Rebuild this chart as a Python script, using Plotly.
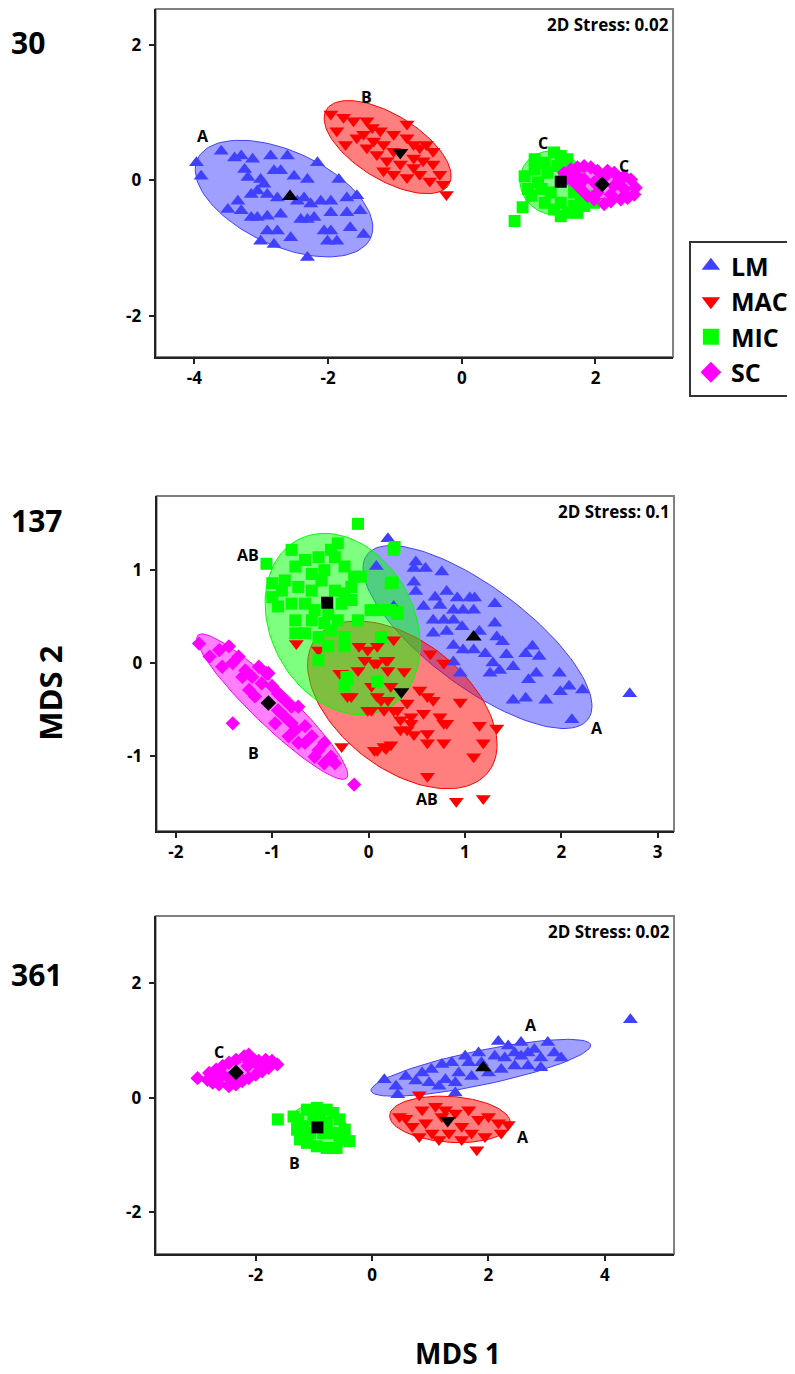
import numpy as np
import plotly.graph_objects as go

groups = ["LM", "MAC", "MIC", "SC"]
colors = {"LM": "#4040FF", "MAC": "#FF0000", "MIC": "#00FF00", "SC": "#FF00FF"}
fills = {"LM": "rgba(64,64,255,0.5)", "MAC": "rgba(255,0,0,0.5)",
         "MIC": "rgba(0,255,0,0.5)", "SC": "rgba(255,0,255,0.5)"}
symbols = {"LM": "triangle-up", "MAC": "triangle-down", "MIC": "square", "SC": "diamond"}
msize = {"LM": 13, "MAC": 13, "MIC": 12, "SC": 11}

# ---------------- Panel "30" ----------------
p30_LM_x = [-3.97, -3.90, -3.60, -3.40, -3.30, -3.13, -2.86, -2.61, -2.16, -3.25, -3.20, -3.01, -2.81, -2.71,
            -2.51, -2.31, -1.84, -3.35, -3.50, -3.30, -3.15, -3.06, -2.96, -2.91, -2.76, -3.06, -2.91, -2.71,
            -2.46, -2.36, -2.26, -2.11, -1.96, -1.72, -1.57, -2.41, -2.31, -2.21, -1.96, -1.72, -1.52, -2.91,
            -2.76, -2.56, -2.06, -1.96, -1.87, -1.67, -1.47, -2.81, -2.31, -3.01, -3.15, -2.01]
p30_LM_y = [0.26, 0.06, 0.43, 0.33, 0.36, 0.31, 0.36, 0.36, 0.26, 0.16, 0.04, 0.01, 0.14, 0.14,
            0.06, 0.01, 0.01, -0.31, -0.43, -0.45, -0.21, -0.16, -0.06, -0.21, -0.26, -0.55, -0.53, -0.50,
            -0.31, -0.26, -0.35, -0.31, -0.31, -0.26, -0.23, -0.58, -0.58, -0.55, -0.48, -0.48, -0.45, -0.75,
            -0.75, -0.85, -0.75, -0.75, -0.90, -0.70, -0.80, -0.95, -1.14, -0.90, -0.55, -0.90]
p30_MAC_x = [-1.96, -1.77, -1.87, -1.74, -1.62, -1.42, -1.34, -1.22, -1.02, -0.82, -1.47, -1.32, -1.17, -1.02,
             -0.72, -0.63, -0.53, -0.43, -1.27, -1.12, -0.92, -0.72, -0.58, -0.43, -0.33, -1.02, -0.82, -0.63,
             -0.48, -0.28, -0.23, -1.42, -1.57, -0.82, -1.17, -0.72]
p30_MAC_y = [0.98, 0.93, 0.73, 0.53, 0.88, 0.88, 0.78, 0.73, 0.68, 0.83, 0.68, 0.58, 0.53, 0.43,
             0.53, 0.48, 0.53, 0.43, 0.38, 0.29, 0.24, 0.33, 0.29, 0.24, 0.09, 0.09, 0.04, 0.09,
             -0.01, -0.06, -0.21, 0.48, 0.63, 0.63, 0.14, 0.19]
p30_MIC_x = [0.94, 0.99, 1.09, 1.14, 1.24, 1.28, 1.38, 1.48, 1.58, 1.33, 1.24, 1.48, 1.58, 1.68, 1.78, 1.88,
             1.73, 1.98, 1.04, 1.19, 1.43, 1.53, 1.63, 1.09, 1.68, 1.83, 1.48, 1.38, 0.91, 0.79]
p30_MIC_y = [0.06, -0.13, 0.16, -0.03, 0.26, 0.11, 0.41, 0.36, 0.31, -0.18, -0.33, -0.33, -0.48, -0.38, -0.28,
             -0.23, -0.48, -0.33, -0.23, -0.13, 0.21, 0.11, 0.16, 0.31, -0.18, -0.38, -0.53, -0.43, -0.40, -0.60]
p30_SC_x = [1.53, 1.63, 1.73, 1.83, 1.93, 2.03, 2.18, 2.28, 2.43, 2.53, 2.60, 2.58, 2.48, 2.38, 2.23, 2.13,
            1.98, 1.88, 1.78, 1.68, 1.58, 1.98, 1.83, 2.28, 2.43, 2.23, 2.03, 2.13, 2.35, 1.73]
p30_SC_y = [0.11, 0.16, 0.19, 0.21, 0.19, 0.14, 0.14, 0.11, 0.06, 0.01, -0.11, -0.21, -0.26, -0.28, -0.31, -0.35,
            -0.28, -0.23, -0.13, -0.03, 0.04, -0.03, 0.01, -0.08, -0.13, -0.21, -0.18, 0.04, -0.01, 0.06]
p30_cent_x = [-2.57, -0.92, 1.48, 2.10]
p30_cent_y = [-0.24, 0.41, -0.02, -0.06]
# ellipse: centre x, centre y, semi-major, semi-minor, angle (deg)
p30_ell_cx = [-2.66, -1.11, 1.36, 2.08]
p30_ell_cy = [-0.27, 0.49, -0.04, -0.07]
p30_ell_a = [1.42, 1.07, 0.50, 0.52]
p30_ell_b = [0.70, 0.48, 0.46, 0.20]
p30_ell_ang = [-24, -31, -30, -8]
p30_lab_text = ["A", "B", "C", "C"]
p30_lab_x = [-3.87, -1.43, 1.22, 2.43]
p30_lab_y = [0.65, 1.23, 0.55, 0.21]

# ---------------- Panel "137" ----------------
p137_LM_x = [0.20, 0.08, 0.49, 0.59, 0.76, 0.47, 0.49, 0.69, 0.81, 0.92, 1.05, 1.10, 1.31, 0.57, 0.74, 0.88,
             0.98, 1.09, 0.67, 0.78, 0.88, 1.31, 0.67, 0.81, 0.97, 1.15, 1.33, 1.39, 0.98, 1.09, 1.21, 1.29,
             1.43, 1.50, 1.63, 1.70, 0.88, 0.95, 1.26, 1.36, 1.66, 1.74, 1.98, 1.50, 1.63, 1.84, 1.99, 2.08,
             2.22, 2.11, 2.71, 0.47, 0.26, 1.77, 0.88]
p137_LM_y = [1.34, 1.04, 1.09, 1.02, 0.98, 0.87, 0.77, 0.71, 0.77, 0.70, 0.70, 0.70, 0.64, 0.61, 0.62, 0.57,
             0.57, 0.57, 0.46, 0.46, 0.46, 0.43, 0.32, 0.34, 0.39, 0.34, 0.28, 0.23, 0.14, 0.14, 0.10, 0.00,
             0.09, -0.04, 0.10, 0.18, 0.01, -0.11, -0.11, -0.08, -0.18, -0.11, -0.11, -0.40, -0.38, -0.40, -0.31, -0.25,
             -0.29, -0.61, -0.33, 1.02, 0.61, 0.07, 0.19]
p137_MAC_x = [-0.75, -0.52, -0.28, -0.11, -0.01, 0.09, 0.26, 0.09, 0.20, -0.04, -0.18, -0.01, 0.13, 0.23, 0.30,
              0.44, 0.40, 0.09, 0.16, -0.28, -0.10, 0.06, 0.18, 0.20, 0.37, -0.30, -0.22, 0.03, 0.09, 0.20,
              0.03, 0.16, 0.26, 0.40, 0.53, 0.61, 0.67, 0.95, 0.33, 0.44, 0.57, 0.74, 0.81, 0.33, 0.47, 0.61,
              0.61, 0.78, 0.78, 1.15, 1.33, 1.19, 1.09, 0.06, 0.23, 0.18, 0.61, 0.91, 1.19, 0.64, 0.78]
p137_MAC_y = [0.21, 0.14, -0.11, -0.08, 0.14, 0.18, 0.25, 0.00, 0.03, 0.03, -0.36, -0.51, -0.40, -0.25, -0.51,
              -0.58, -0.72, -0.94, -0.90, -0.90, 0.18, 0.00, 0.03, -0.08, -0.09, -0.11, -0.36, -0.25, -0.36, -0.40,
              -0.51, -0.51, -0.51, -0.43, -0.29, -0.36, -0.40, -0.42, -0.61, -0.65, -0.54, -0.58, -0.65, -0.72, -0.77, -0.76,
              -0.86, -0.86, -0.65, -0.67, -0.70, -0.86, -1.01, -0.94, -0.88, -0.92, -1.22, -1.49, -1.46, 0.10, 0.00]
p137_MIC_x = [-1.06, -0.11, -0.80, -0.66, -0.52, -0.39, -0.32, -0.35, -0.76, -0.59, -0.46, -0.25, -0.15, -0.08,
              -1.00, -0.87, -0.73, -0.59, -0.49, -0.35, -0.25, -0.18, -1.00, -0.94, -0.80, -0.66, -0.56, -0.42,
              -0.28, -0.18, -0.76, -0.59, -0.46, -0.32, -0.66, -0.52, -0.39, -0.25, -0.11, 0.02, 0.13, 0.23,
              0.30, 0.26, 0.23, 0.13, -0.52, -0.42, -0.25, -0.23, -0.25, 0.09, -0.76, -0.90, 0.27, 0.25, 0.30, -0.22]
p137_MIC_y = [1.07, 1.50, 1.22, 1.11, 1.14, 1.22, 1.29, 1.14, 1.04, 0.96, 1.00, 1.04, 0.93, 0.93,
              0.86, 0.89, 0.82, 0.78, 0.89, 0.78, 0.75, 0.82, 0.71, 0.61, 0.64, 0.64, 0.57, 0.53,
              0.64, 0.68, 0.46, 0.46, 0.43, 0.46, 0.32, 0.28, 0.35, 0.28, 0.46, 0.57, 0.57, 0.57,
              0.53, 1.22, 0.86, 0.28, 0.03, 0.18, 0.18, -0.15, -0.25, -0.20, 0.32, 0.78, 1.25, 0.87, 0.55, -0.18]
p137_SC_x = [-1.76, -1.65, -1.55, -1.45, -1.52, -1.41, -1.35, -1.28, -1.21, -1.14, -1.11, -1.24, -1.18, -1.04,
             -1.00, -0.94, -0.87, -0.80, -0.73, -0.94, -0.87, -0.80, -0.97, -0.76, -0.66, -0.59, -0.66, -0.52,
             -0.46, -0.39, -0.56, -0.35, -0.73, -0.83, -1.31, -1.06, -0.46, -1.41, -0.15]
p137_SC_y = [0.21, 0.07, 0.14, 0.18, -0.04, 0.00, 0.07, -0.08, -0.15, -0.04, -0.22, -0.29, -0.36, -0.11,
             -0.25, -0.33, -0.40, -0.47, -0.47, -0.51, -0.58, -0.65, -0.65, -0.72, -0.68, -0.79, -0.86, -0.94,
             -0.86, -1.01, -1.01, -1.08, -0.86, -0.79, -0.15, -0.11, -1.08, -0.65, -1.31]
p137_cent_x = [1.09, 0.34, -0.43, -1.04]
p137_cent_y = [0.28, -0.31, 0.65, -0.43]
p137_ell_cx = [1.13, 0.35, -0.27, -1.00]
p137_ell_cy = [0.28, -0.45, 0.42, -0.47]
p137_ell_a = [1.45, 1.15, 1.02, 1.09]
p137_ell_b = [0.53, 0.68, 0.75, 0.20]
p137_ell_ang = [-38, -40, -65, -45]
p137_lab_text = ["A", "AB", "AB", "B"]
p137_lab_x = [2.37, 0.61, -1.25, -1.19]
p137_lab_y = [-0.70, -1.47, 1.16, -0.97]

# ---------------- Panel "361" ----------------
p361_LM_x = [0.21, 0.44, 0.58, 0.75, 0.86, 1.02, 1.20, 1.26, 1.15, 1.43, 1.49, 1.66, 1.71, 1.83, 1.60, 2.11,
             2.17, 2.34, 2.45, 2.56, 2.68, 2.79, 2.90, 3.02, 3.13, 3.25, 2.00, 2.22, 2.45, 2.68, 2.90, 2.28,
             1.37, 0.98, 1.43, 4.44, 0.41, 1.88, 2.56]
p361_LM_y = [0.31, 0.05, 0.37, 0.29, 0.43, 0.49, 0.58, 0.31, 0.20, 0.26, 0.43, 0.61, 0.37, 0.78, 0.72, 0.72,
             0.98, 0.90, 0.78, 0.96, 0.78, 0.84, 0.69, 0.96, 0.78, 0.69, 0.43, 0.49, 0.55, 0.55, 0.52, 0.69,
             0.61, 0.26, 0.08, 1.36, 0.20, 0.61, 0.72]
p361_MAC_x = [0.81, 0.58, 0.69, 0.86, 0.92, 1.09, 1.03, 1.15, 1.32, 1.43, 1.54, 1.66, 1.71, 1.83, 1.94, 2.00,
              2.17, 2.34, 2.22, 1.80, 1.20, 0.81, 1.54, 1.26, 0.47]
p361_MAC_y = [0.05, -0.36, -0.50, -0.21, -0.44, -0.15, -0.62, -0.73, -0.62, -0.27, -0.50, -0.21, -0.62, -0.38,
              -0.68, -0.33, -0.44, -0.47, -0.62, -0.91, -0.33, -0.68, -0.73, -0.21, -0.33]
p361_MIC_x = [-1.35, -1.29, -1.24, -1.12, -0.95, -0.78, -0.67, -0.56, -0.47, -0.39, -0.61, -0.78, -0.95, -1.12,
              -1.18, -1.01, -0.84, -0.67, -0.56, -1.07, -0.78, -0.90, -1.27, -1.62]
p361_MIC_y = [-0.33, -0.56, -0.73, -0.21, -0.18, -0.21, -0.27, -0.38, -0.56, -0.76, -0.88, -0.88, -0.85, -0.79,
              -0.50, -0.38, -0.62, -0.62, -0.73, -0.62, -0.44, -0.33, -0.38, -0.38]
p361_SC_x = [-3.00, -2.83, -2.80, -2.68, -2.57, -2.46, -2.34, -2.20, -2.12, -2.03, -1.95, -1.83, -1.72, -1.63,
             -1.78, -1.89, -2.00, -2.12, -2.23, -2.34, -2.46, -2.63, -2.74, -2.57, -2.14, -1.95, -2.29, -2.46,
             -1.83, -2.68]
p361_SC_y = [0.34, 0.31, 0.43, 0.49, 0.55, 0.61, 0.66, 0.72, 0.75, 0.66, 0.64, 0.66, 0.64, 0.58,
             0.52, 0.46, 0.40, 0.34, 0.29, 0.23, 0.20, 0.23, 0.26, 0.40, 0.55, 0.55, 0.37, 0.34,
             0.58, 0.34]
p361_cent_x = [1.91, 1.30, -0.94, -2.34]
p361_cent_y = [0.52, -0.40, -0.52, 0.44]
p361_ell_cx = [1.87, 1.34, -0.90, -2.30]
p361_ell_cy = [0.52, -0.38, -0.50, 0.45]
p361_ell_a = [1.93, 1.04, 0.50, 0.62]
p361_ell_b = [0.30, 0.40, 0.35, 0.15]
p361_ell_ang = [12, -4, -20, 12]
p361_lab_text = ["A", "A", "B", "C"]
p361_lab_x = [2.74, 2.59, -1.33, -2.64]
p361_lab_y = [1.26, -0.68, -1.14, 0.79]

# page body adds an 8px margin; work in target-page pixels and convert
W, H, OFF = 787, 1366, 8


def pxx(v):
    return (v - OFF) / W


def pxy(v):
    return 1 - (v - OFF) / H


panels = [
    dict(name="30", stress="2D Stress: 0.02",
         pts={"LM": (p30_LM_x, p30_LM_y), "MAC": (p30_MAC_x, p30_MAC_y),
              "MIC": (p30_MIC_x, p30_MIC_y), "SC": (p30_SC_x, p30_SC_y)},
         cent=(p30_cent_x, p30_cent_y),
         ell=(p30_ell_cx, p30_ell_cy, p30_ell_a, p30_ell_b, p30_ell_ang),
         lab=(p30_lab_text, p30_lab_x, p30_lab_y),
         xr=[-4.58, 3.16], yr=[-2.61, 2.53], xt=[-4, -2, 0, 2], yt=[-2, 0, 2],
         xd=[pxx(157), pxx(679)], yd=[pxy(357), pxy(9)]),
    dict(name="137", stress="2D Stress: 0.1",
         pts={"LM": (p137_LM_x, p137_LM_y), "MAC": (p137_MAC_x, p137_MAC_y),
              "MIC": (p137_MIC_x, p137_MIC_y), "SC": (p137_SC_x, p137_SC_y)},
         cent=(p137_cent_x, p137_cent_y),
         ell=(p137_ell_cx, p137_ell_cy, p137_ell_a, p137_ell_b, p137_ell_ang),
         lab=(p137_lab_text, p137_lab_x, p137_lab_y),
         xr=[-2.2, 3.17], yr=[-1.81, 1.8], xt=[-2, -1, 0, 1, 2, 3], yt=[-1, 0, 1],
         xd=[pxx(158), pxx(680)], yd=[pxy(831), pxy(496)]),
    dict(name="361", stress="2D Stress: 0.02",
         pts={"LM": (p361_LM_x, p361_LM_y), "MAC": (p361_MAC_x, p361_MAC_y),
              "MIC": (p361_MIC_x, p361_MIC_y), "SC": (p361_SC_x, p361_SC_y)},
         cent=(p361_cent_x, p361_cent_y),
         ell=(p361_ell_cx, p361_ell_cy, p361_ell_a, p361_ell_b, p361_ell_ang),
         lab=(p361_lab_text, p361_lab_x, p361_lab_y),
         xr=[-3.72, 5.19], yr=[-2.73, 3.17], xt=[-2, 0, 2, 4], yt=[-2, 0, 2],
         xd=[pxx(157), pxx(680)], yd=[pxy(1254), pxy(916)]),
]

FONT = "Open Sans"
fig = go.Figure()
layout = dict(width=W, height=H, margin=dict(l=0, r=0, t=0, b=0),
              paper_bgcolor="white", plot_bgcolor="white", shapes=[], annotations=[])

t = np.linspace(0, 2 * np.pi, 120)
for i, p in enumerate(panels):
    sfx = "" if i == 0 else str(i + 1)
    xa, ya = "x" + sfx, "y" + sfx
    cx, cy, aa, bb, ang = p["ell"]
    for g, c0, c1, a0, b0, th in zip(groups, cx, cy, aa, bb, ang):
        th = np.deg2rad(th)
        ex = c0 + a0 * np.cos(t) * np.cos(th) - b0 * np.sin(t) * np.sin(th)
        ey = c1 + a0 * np.cos(t) * np.sin(th) + b0 * np.sin(t) * np.cos(th)
        fig.add_trace(go.Scatter(x=ex, y=ey, xaxis=xa, yaxis=ya, mode="lines", fill="toself",
                                 fillcolor=fills[g], line=dict(color=colors[g], width=1),
                                 showlegend=False, hoverinfo="skip"))
    for g in groups:
        px_, py_ = p["pts"][g]
        fig.add_trace(go.Scatter(x=px_, y=py_, xaxis=xa, yaxis=ya, mode="markers",
                                 marker=dict(symbol=symbols[g], color=colors[g], size=msize[g],
                                             line=dict(width=0)),
                                 showlegend=False, name=g))
    for g, x0, y0 in zip(groups, p["cent"][0], p["cent"][1]):
        fig.add_trace(go.Scatter(x=[x0], y=[y0], xaxis=xa, yaxis=ya, mode="markers",
                                 marker=dict(symbol=symbols[g], color="black", size=14 if g in ("LM", "MAC") else 12,
                                             line=dict(width=0)),
                                 showlegend=False))
    for txt, lx, ly in zip(*p["lab"]):
        layout["annotations"].append(dict(x=lx, y=ly, xref=xa, yref=ya, text=txt, showarrow=False,
                                          font=dict(family=FONT, size=16, color="black", weight="bold")))
    layout["annotations"].append(dict(x=0.996, y=0.955, xref=xa + " domain", yref=ya + " domain",
                                      text=p["stress"], showarrow=False, xanchor="right", yanchor="middle",
                                      font=dict(family=FONT, size=17, color="black", weight="bold")))
    layout["shapes"].append(dict(type="rect", xref=xa + " domain", yref=ya + " domain", x0=0, x1=1, y0=0, y1=1,
                                 line=dict(color="#808080", width=2), layer="below"))
    common = dict(showgrid=False, zeroline=False, showline=True, linecolor="#222222", linewidth=2,
                  ticks="outside", ticklen=5, tickwidth=1.5, tickcolor="#222222",
                  tickfont=dict(family=FONT, size=17, color="black", weight="bold"))
    layout["xaxis" + sfx] = dict(domain=p["xd"], range=p["xr"], anchor=ya, tickvals=p["xt"],
                                 ticktext=[str(v) for v in p["xt"]], **common)
    layout["yaxis" + sfx] = dict(domain=p["yd"], range=p["yr"], anchor=xa, tickvals=p["yt"],
                                 ticktext=[str(v) for v in p["yt"]], ticklabelstandoff=4, **common)

for g in groups:
    fig.add_trace(go.Scatter(x=[None], y=[None], mode="markers", name=g,
                             marker=dict(symbol=symbols[g], color=colors[g], size=16)))

for txt, yy in [("30", 42), ("137", 520), ("361", 975)]:
    layout["annotations"].append(dict(x=pxx(9), y=pxy(yy), xref="paper", yref="paper", text=txt,
                                      showarrow=False, xanchor="left", yanchor="middle",
                                      font=dict(family=FONT, size=30, color="black", weight="bold")))
layout["annotations"].append(dict(x=pxx(50), y=pxy(693), xref="paper", yref="paper", text="MDS 2",
                                  textangle=-90, showarrow=False, xanchor="center", yanchor="middle",
                                  font=dict(family=FONT, size=31, color="black", weight="bold")))
layout["annotations"].append(dict(x=pxx(462), y=pxy(1353), xref="paper", yref="paper", text="MDS 1",
                                  showarrow=False, xanchor="center", yanchor="middle",
                                  font=dict(family=FONT, size=28, color="black", weight="bold")))

layout["legend"] = dict(x=pxx(695), y=pxy(241), xanchor="left", yanchor="top",
                        bordercolor="#333333", borderwidth=2, bgcolor="white",
                        font=dict(family=FONT, size=25, color="black", weight="bold"),
                        itemwidth=30, tracegroupgap=0)
layout["showlegend"] = True
fig.update_layout(**layout)
fig.write_html("out.html")
